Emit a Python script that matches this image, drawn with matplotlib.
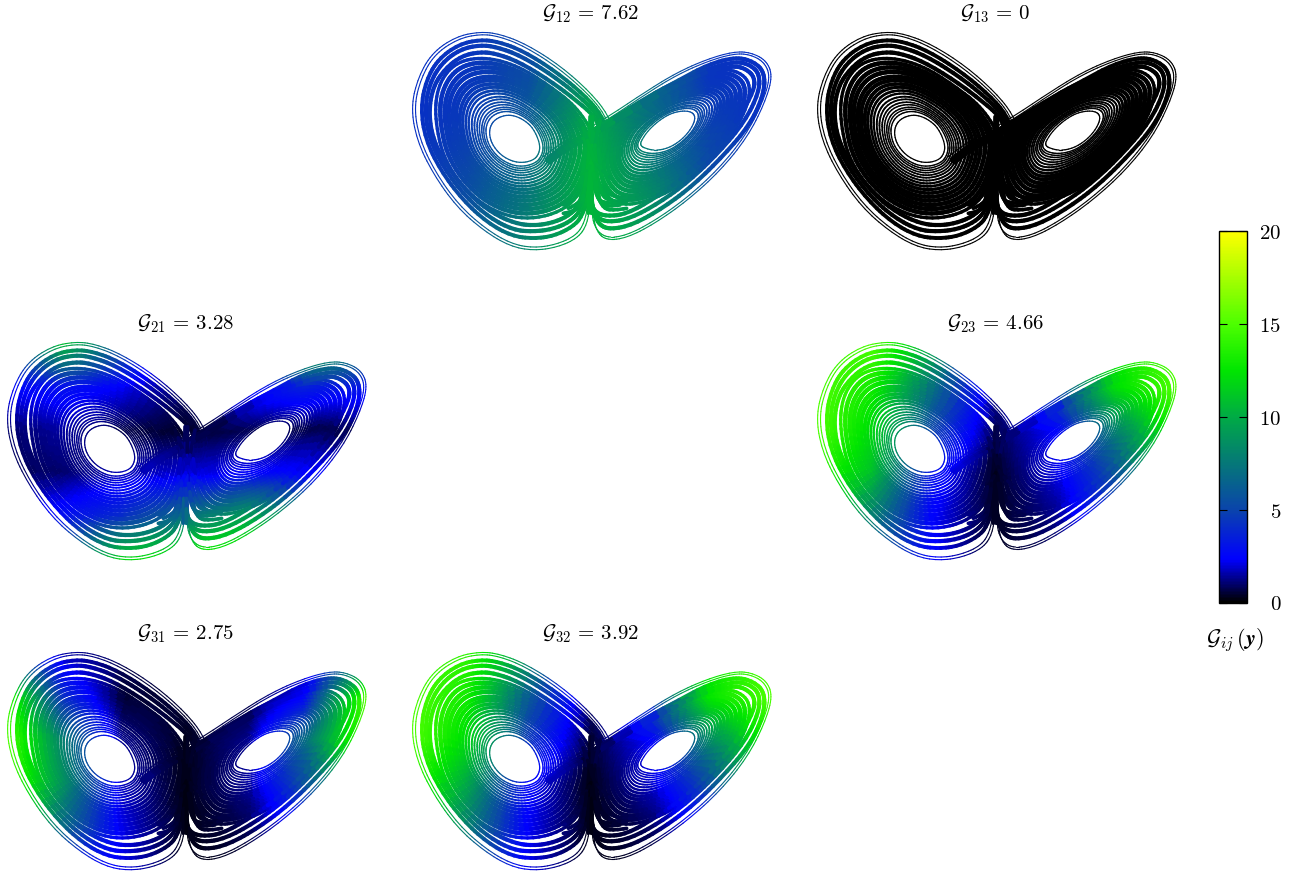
import numpy as np
import matplotlib
matplotlib.use("Agg")
import matplotlib.pyplot as plt
from matplotlib.collections import LineCollection
from matplotlib.colors import LinearSegmentedColormap, Normalize
from matplotlib.cm import ScalarMappable
from matplotlib.path import Path

plt.rcParams['mathtext.fontset'] = 'cm'

# curves, in units of a third of a pixel inside one panel
left_body_x = [
    [420, 400, 375, 345, 315, 285, 270, 268, 280, 310, 355, 400, 418],
    [430, 408, 380, 345, 310, 277, 259, 257, 270, 305, 356, 407, 428],
    [436, 413, 382, 345, 307, 272, 253, 250, 264, 302, 356, 411, 433],
    [442, 418, 385, 345, 305, 267, 247, 244, 259, 300, 357, 416, 439],
    [448, 423, 388, 345, 302, 261, 240, 237, 252, 296, 358, 420, 445],
    [455, 429, 391, 345, 299, 256, 233, 230, 246, 293, 359, 425, 451],
    [462, 435, 394, 345, 296, 250, 225, 222, 239, 289, 359, 430, 458],
    [469, 441, 397, 345, 293, 244, 217, 214, 232, 286, 360, 436, 465],
    [478, 448, 401, 345, 289, 237, 208, 205, 224, 282, 361, 441, 473],
    [487, 456, 406, 345, 286, 231, 200, 196, 217, 278, 362, 447, 482],
    [497, 464, 411, 346, 282, 224, 191, 186, 208, 274, 363, 454, 491],
    [507, 472, 416, 347, 278, 217, 182, 177, 200, 270, 364, 462, 500],
    [518, 482, 422, 348, 274, 209, 171, 166, 191, 265, 365, 470, 511],
    [530, 492, 428, 349, 270, 201, 161, 156, 182, 261, 367, 478, 522],
    [544, 502, 432, 349, 265, 192, 149, 144, 171, 255, 368, 487, 535],
    [558, 512, 437, 350, 260, 183, 138, 132, 161, 250, 370, 496, 548],
    [571, 522, 442, 350, 255, 173, 125, 118, 148, 244, 371, 505, 560],
    [585, 532, 447, 351, 250, 163, 112, 104, 136, 238, 373, 515, 572],
]
left_body_y = [
    [430, 385, 362, 347, 345, 358, 380, 408, 440, 472, 490, 482, 460],
    [429, 382, 355, 337, 333, 346, 372, 405, 444, 482, 502, 491, 463],
    [428, 380, 351, 331, 326, 339, 367, 403, 446, 487, 509, 496, 464],
    [427, 378, 347, 325, 320, 333, 362, 401, 448, 493, 516, 501, 466],
    [426, 375, 343, 318, 312, 325, 356, 398, 450, 499, 523, 507, 468],
    [425, 373, 339, 312, 304, 318, 351, 396, 452, 505, 531, 513, 470],
    [424, 370, 334, 304, 295, 310, 345, 394, 454, 512, 539, 519, 472],
    [423, 368, 329, 297, 287, 302, 339, 392, 457, 519, 548, 526, 474],
    [422, 364, 322, 289, 277, 292, 332, 389, 459, 526, 557, 534, 476],
    [421, 360, 316, 281, 268, 283, 326, 386, 462, 534, 566, 542, 478],
    [420, 356, 310, 272, 258, 273, 319, 383, 465, 542, 576, 551, 481],
    [419, 352, 303, 263, 248, 263, 312, 381, 468, 551, 587, 560, 485],
    [417, 347, 295, 252, 237, 252, 304, 377, 471, 561, 599, 570, 488],
    [416, 343, 288, 242, 226, 242, 296, 374, 475, 571, 611, 580, 492],
    [414, 338, 280, 231, 211, 228, 287, 370, 480, 581, 624, 591, 496],
    [413, 333, 272, 220, 197, 215, 278, 367, 485, 592, 637, 602, 500],
    [411, 328, 264, 208, 183, 201, 268, 363, 489, 603, 651, 613, 505],
    [410, 323, 256, 196, 170, 188, 258, 360, 494, 615, 665, 625, 510],
]
right_body_x = [
    [722, 745, 785, 825, 870, 888, 875, 845, 805, 765, 735, 722],
    [713, 736, 779, 825, 876, 899, 887, 855, 810, 764, 729, 713],
    [708, 731, 775, 825, 880, 905, 893, 860, 813, 763, 725, 708],
    [703, 726, 772, 826, 884, 911, 900, 866, 816, 763, 722, 704],
    [697, 720, 768, 826, 888, 917, 907, 872, 819, 762, 718, 698],
    [692, 715, 765, 826, 892, 924, 915, 879, 823, 761, 715, 693],
    [685, 708, 760, 826, 896, 932, 923, 886, 827, 760, 710, 687],
    [679, 702, 756, 827, 901, 940, 931, 893, 831, 760, 706, 681],
    [672, 695, 751, 827, 905, 948, 940, 900, 835, 759, 701, 674],
    [665, 689, 747, 827, 910, 956, 949, 908, 839, 758, 697, 667],
    [657, 681, 742, 827, 915, 965, 959, 916, 843, 757, 692, 659],
    [650, 674, 737, 828, 921, 975, 969, 925, 848, 756, 687, 652],
    [640, 664, 731, 828, 928, 986, 981, 935, 854, 755, 680, 643],
    [630, 655, 725, 829, 935, 997, 993, 946, 860, 755, 674, 634],
    [619, 645, 718, 829, 942, 1009, 1006, 958, 866, 753, 667, 623],
    [608, 635, 711, 829, 950, 1022, 1020, 970, 873, 752, 660, 612],
    [596, 623, 703, 829, 957, 1035, 1034, 981, 879, 751, 652, 601],
    [585, 612, 695, 830, 965, 1048, 1048, 992, 886, 750, 644, 590],
]
right_body_y = [
    [425, 390, 355, 335, 332, 350, 385, 420, 445, 452, 445, 437],
    [427, 390, 353, 329, 323, 342, 380, 419, 451, 462, 457, 444],
    [428, 389, 351, 325, 318, 337, 377, 418, 454, 468, 463, 448],
    [429, 389, 350, 322, 313, 333, 374, 418, 457, 474, 470, 452],
    [430, 389, 349, 317, 307, 327, 370, 418, 460, 481, 477, 457],
    [431, 389, 348, 313, 302, 322, 367, 418, 464, 488, 485, 462],
    [432, 388, 346, 308, 295, 316, 363, 417, 468, 495, 493, 467],
    [434, 388, 345, 304, 289, 311, 360, 417, 472, 502, 502, 472],
    [435, 388, 343, 299, 282, 304, 355, 416, 476, 510, 511, 477],
    [436, 388, 342, 295, 275, 298, 351, 416, 481, 519, 520, 483],
    [437, 387, 340, 290, 268, 291, 346, 415, 486, 527, 530, 489],
    [439, 387, 338, 284, 260, 284, 342, 414, 491, 536, 540, 496],
    [441, 386, 335, 277, 250, 276, 337, 413, 497, 547, 552, 503],
    [443, 386, 332, 270, 241, 268, 332, 413, 503, 558, 564, 511],
    [444, 385, 329, 262, 231, 258, 326, 412, 509, 569, 577, 519],
    [446, 384, 326, 255, 221, 249, 321, 412, 516, 581, 591, 528],
    [448, 382, 322, 247, 210, 239, 315, 412, 523, 593, 604, 536],
    [450, 381, 319, 240, 200, 230, 310, 412, 530, 605, 618, 545],
]
left_outer_x = [
    [578, 590, 625, 640, 625, 572, 482, 380, 300, 240, 167, 97, 55, 33, 50, 99, 170, 252, 330, 400, 472, 534, 562, 570, 565],
    [575, 585, 618, 630, 616, 564, 476, 376, 298, 240, 172, 103, 63, 42, 58, 105, 175, 256, 332, 400, 468, 528, 554, 564, 560],
    [570, 580, 612, 622, 605, 554, 467, 370, 295, 240, 176, 114, 78, 62, 76, 120, 188, 262, 335, 400, 462, 519, 547, 558, 555],
    [566, 575, 606, 614, 596, 544, 458, 362, 290, 240, 180, 124, 88, 74, 88, 131, 198, 270, 340, 398, 457, 509, 539, 552, 550],
    [562, 570, 598, 604, 587, 535, 450, 354, 285, 240, 186, 135, 98, 86, 100, 143, 208, 278, 345, 398, 452, 502, 532, 547, 546],
]
left_outer_y = [
    [600, 530, 460, 400, 345, 278, 198, 133, 102, 95, 110, 158, 230, 320, 420, 521, 621, 693, 739, 752, 742, 714, 672, 610, 520],
    [600, 530, 460, 400, 345, 281, 204, 140, 109, 102, 117, 164, 234, 320, 416, 515, 614, 686, 731, 744, 734, 707, 667, 610, 520],
    [600, 530, 460, 400, 345, 286, 214, 153, 125, 119, 133, 178, 242, 325, 417, 509, 600, 668, 708, 716, 708, 680, 648, 600, 520],
    [600, 530, 460, 400, 348, 294, 226, 167, 141, 135, 148, 190, 252, 330, 417, 504, 592, 654, 690, 695, 688, 666, 636, 595, 520],
    [600, 530, 460, 400, 352, 306, 242, 184, 160, 156, 167, 206, 262, 340, 422, 502, 585, 640, 670, 677, 670, 650, 622, 590, 520],
]
right_outer_x = [
    [578, 578, 590, 620, 680, 762, 862, 961, 1042, 1093, 1118, 1100, 1052, 1000, 920, 830, 740, 625, 540, 480, 430],
    [574, 574, 587, 620, 678, 758, 857, 956, 1036, 1087, 1111, 1094, 1050, 1000, 922, 832, 742, 628, 545, 485, 435],
    [572, 576, 595, 630, 700, 792, 882, 973, 1050, 1092, 1094, 1062, 1008, 925, 838, 745, 630, 550, 490, 440, 440],
    [570, 574, 590, 625, 690, 777, 867, 958, 1035, 1077, 1079, 1052, 1008, 928, 840, 748, 634, 555, 495, 445, 445],
    [568, 572, 585, 620, 680, 762, 852, 943, 1018, 1062, 1064, 1040, 1005, 930, 842, 750, 636, 558, 498, 448, 448],
]
right_outer_y = [
    [560, 640, 696, 721, 714, 672, 602, 512, 412, 312, 230, 182, 157, 155, 178, 218, 273, 350, 400, 430, 470],
    [560, 640, 689, 714, 707, 666, 597, 507, 408, 310, 232, 187, 163, 161, 184, 224, 279, 356, 405, 436, 476],
    [560, 625, 673, 689, 674, 622, 554, 464, 374, 282, 218, 185, 171, 193, 240, 290, 360, 410, 440, 480, 480],
    [560, 615, 653, 667, 656, 609, 544, 456, 364, 277, 223, 195, 184, 204, 246, 298, 366, 414, 444, 484, 484],
    [560, 605, 637, 649, 642, 596, 532, 446, 352, 272, 232, 208, 197, 212, 250, 302, 370, 418, 448, 488, 488],
]
# fan of lines from the middle down into the cusp
center_x = [
    [560, 552, 540, 515, 490],
    [575, 565, 552, 530, 505],
    [585, 574, 564, 555, 540],
    [570, 568, 567, 566, 565],
    [590, 600, 612, 650, 700],
    [580, 588, 600, 630, 680],
    [570, 578, 588, 610, 650],
    [578, 576, 575, 574, 574],
    [600, 590, 580, 570, 540],
    [540, 560, 575, 590, 640],
    [585, 595, 610, 640, 680],
    [580, 590, 600, 625, 660],
    [560, 552, 540, 515, 490],
]
center_y = [
    [400, 500, 570, 605, 615],
    [400, 500, 585, 615, 625],
    [400, 500, 590, 630, 650],
    [350, 450, 540, 590, 640],
    [400, 500, 570, 595, 595],
    [400, 500, 580, 605, 605],
    [400, 510, 590, 610, 610],
    [350, 450, 540, 590, 640],
    [360, 410, 460, 500, 540],
    [360, 410, 460, 500, 540],
    [520, 590, 625, 632, 625],
    [520, 575, 610, 620, 615],
    [520, 590, 620, 636, 640],
]

# colour value seen at a coarse grid over a panel
grid_x = [40, 200, 380, 570, 760, 930, 1110]
grid_y = [100, 230, 360, 490, 620, 750]
g12_field = [
    [4.2, 4.4, 5.2, 8.0, 6.0, 4.4, 4.2],
    [4.2, 4.4, 5.4, 9.0, 6.5, 4.4, 4.2],
    [4.2, 4.6, 6.0, 10.0, 7.0, 4.8, 4.2],
    [4.3, 5.0, 6.8, 10.5, 7.5, 5.2, 4.6],
    [4.6, 5.5, 7.5, 10.5, 8.5, 6.0, 5.0],
    [5.0, 6.0, 8.2, 10.5, 9.5, 7.0, 5.5],
]
g13_field = [
    [0, 0, 0, 0, 0, 0, 0],
    [0, 0, 0, 0, 0, 0, 0],
    [0, 0, 0, 0, 0, 0, 0],
    [0, 0, 0, 0, 0, 0, 0],
    [0, 0, 0, 0, 0, 0, 0],
    [0, 0, 0, 0, 0, 0, 0],
]
g21_field = [
    [6.0, 11.0, 6.0, 0.5, 9.0, 13.0, 8.0],
    [2.5, 3.0, 2.2, 1.0, 2.8, 3.5, 3.0],
    [1.0, 1.5, 0.7, 0.4, 0.8, 0.7, 0.7],
    [0.8, 1.0, 1.7, 2.0, 2.4, 2.5, 2.5],
    [2.2, 2.8, 4.0, 7.0, 9.5, 9.0, 8.0],
    [5.0, 7.0, 12.0, 13.5, 15.0, 14.0, 12.0],
]
g23_field = [
    [15.0, 15.0, 10.0, 1.0, 10.0, 13.0, 15.0],
    [15.0, 13.0, 7.0, 1.2, 5.5, 12.0, 15.0],
    [15.0, 12.0, 5.0, 0.8, 2.5, 8.0, 13.0],
    [14.0, 11.0, 3.0, 0.3, 2.2, 5.5, 11.0],
    [12.0, 8.0, 2.5, 0.3, 1.3, 4.0, 6.0],
    [10.0, 6.0, 2.5, 0.3, 0.8, 2.5, 5.0],
]
g31_field = [
    [5.0, 1.5, 0.8, 1.0, 1.0, 1.0, 6.0],
    [14.0, 4.0, 0.5, 0.5, 0.5, 2.5, 15.0],
    [15.0, 8.0, 1.3, 0.3, 1.3, 7.0, 15.0],
    [15.0, 9.0, 1.8, 0.2, 1.5, 5.5, 11.0],
    [13.0, 7.0, 2.2, 0.2, 0.8, 2.5, 6.0],
    [8.0, 3.0, 2.2, 0.2, 0.3, 2.2, 4.0],
]
g32_field = [
    [15.0, 14.0, 9.0, 1.0, 9.0, 13.0, 15.0],
    [15.0, 13.0, 6.0, 1.0, 5.5, 12.5, 15.0],
    [15.0, 12.0, 4.5, 0.5, 2.5, 8.5, 13.0],
    [14.0, 10.0, 2.6, 0.2, 2.0, 5.5, 10.0],
    [13.0, 8.0, 2.4, 0.2, 0.9, 2.6, 6.0],
    [10.0, 6.0, 2.2, 0.2, 0.4, 2.4, 5.0],
]

titles = [r'$\mathcal{G}_{12}\,=\,7.62$', r'$\mathcal{G}_{13}\,=\,0$', r'$\mathcal{G}_{21}\,=\,3.28$',
          r'$\mathcal{G}_{23}\,=\,4.66$', r'$\mathcal{G}_{31}\,=\,2.75$', r'$\mathcal{G}_{32}\,=\,3.92$']
fields = [g12_field, g13_field, g21_field, g23_field, g31_field, g32_field]
panel_left = [400, 805, -5, 805, -5, 400]
panel_top = [0, 0, 310, 310, 620, 620]
bar_ticks = [0, 5, 10, 15, 20]

cmap = LinearSegmentedColormap.from_list('gcmap', [
    (0, (0, 0, 0)), (2.3 / 20, (0, 0, 1)), (5 / 20, (0.04, 0.27, 0.67)),
    (10 / 20, (0, 0.67, 0.27)), (12.5 / 20, (0, 0.9, 0)), (15 / 20, (0.3, 1, 0)),
    (20 / 20, (1, 1, 0))])
norm = Normalize(0, 20)
W, H = 1297, 872


def flatten(px, py, closed=False):
    # px, py are control points, matplotlib's quadratic curves smooth them
    p = np.column_stack([px, py]).astype(float)
    if closed:
        mid = (p + np.roll(p, -1, axis=0)) / 2
        verts = [mid[-1]]
        codes = [Path.MOVETO]
        for i in range(len(p)):
            verts += [p[i], mid[i]]
            codes += [Path.CURVE3, Path.CURVE3]
    else:
        mid = (p[:-1] + p[1:]) / 2
        verts = [p[0]]
        codes = [Path.MOVETO]
        for i in range(1, len(p) - 1):
            verts += [p[i], mid[i] if i < len(p) - 2 else p[-1]]
            codes += [Path.CURVE3, Path.CURVE3]
    return Path(verts, codes).to_polygons(closed_only=False)[0]


def field_at(field, x, y):
    field = np.array(field, float)
    fx = np.interp(x, grid_x, np.arange(len(grid_x)))
    fy = np.interp(y, grid_y, np.arange(len(grid_y)))
    i = np.minimum(fx.astype(int), len(grid_x) - 2)
    j = np.minimum(fy.astype(int), len(grid_y) - 2)
    a = fx - i
    b = fy - j
    return (field[j, i] * (1 - a) * (1 - b) + field[j, i + 1] * a * (1 - b)
            + field[j + 1, i] * (1 - a) * b + field[j + 1, i + 1] * a * b)


curves = []
body_lw = [0.9, 1.0, 1.0, 1.1, 1.1, 1.2, 1.3, 1.4, 1.6, 1.9, 2.3, 2.6, 2.9, 3.0, 3.2, 3.2, 3.2, 2.4]
for k in range(len(left_body_x)):
    curves.append((flatten(left_body_x[k], left_body_y[k], True), body_lw[k]))
    curves.append((flatten(right_body_x[k], right_body_y[k], True), body_lw[k]))
for k, lw in enumerate([0.8, 0.8, 2.8, 3.0, 3.0]):
    curves.append((flatten(left_outer_x[k], left_outer_y[k]), lw))
for k, lw in enumerate([0.8, 0.8, 3.0, 3.0, 3.0]):
    curves.append((flatten(right_outer_x[k], right_outer_y[k]), lw))
for k in range(len(center_x)):
    curves.append((flatten(center_x[k], center_y[k]), 2.6))

fig = plt.figure(figsize=(W / 100, H / 100), dpi=100)
for n in range(6):
    ax = fig.add_axes([panel_left[n] / W, 1 - (panel_top[n] + 290) / H, 380 / W, 290 / H])
    ax.set_xlim(0, 1140)
    ax.set_ylim(870, 0)
    ax.axis('off')
    for pts, lw in curves:
        segs = np.stack([pts[:-1], pts[1:]], axis=1)
        mids = segs.mean(axis=1)
        vals = field_at(fields[n], mids[:, 0], mids[:, 1])
        lc = LineCollection(segs, cmap=cmap, norm=norm, linewidths=lw, capstyle='round')
        lc.set_array(vals)
        ax.add_collection(lc)
    ax.text(570, 42, titles[n], ha='center', va='center', fontsize=15)

cax = fig.add_axes([1218.5 / W, 1 - 602.5 / H, 28 / W, 371.5 / H])
cb = fig.colorbar(ScalarMappable(norm=norm, cmap=cmap), cax=cax, ticks=bar_ticks)
cb.outline.set_linewidth(1)
cax.tick_params(axis='y', which='both', direction='in', left=True, right=True, length=6, width=0.8, pad=25)
cax.set_yticklabels(['$%d$' % t for t in bar_ticks], ha='right', fontsize=15)
fig.text(1235 / W, 1 - 640 / H, r'$\mathcal{G}_{ij}\,(\boldsymbol{y})$', ha='center', va='center', fontsize=16)

fig.savefig('out.png', dpi=100)
plt.close('all')
